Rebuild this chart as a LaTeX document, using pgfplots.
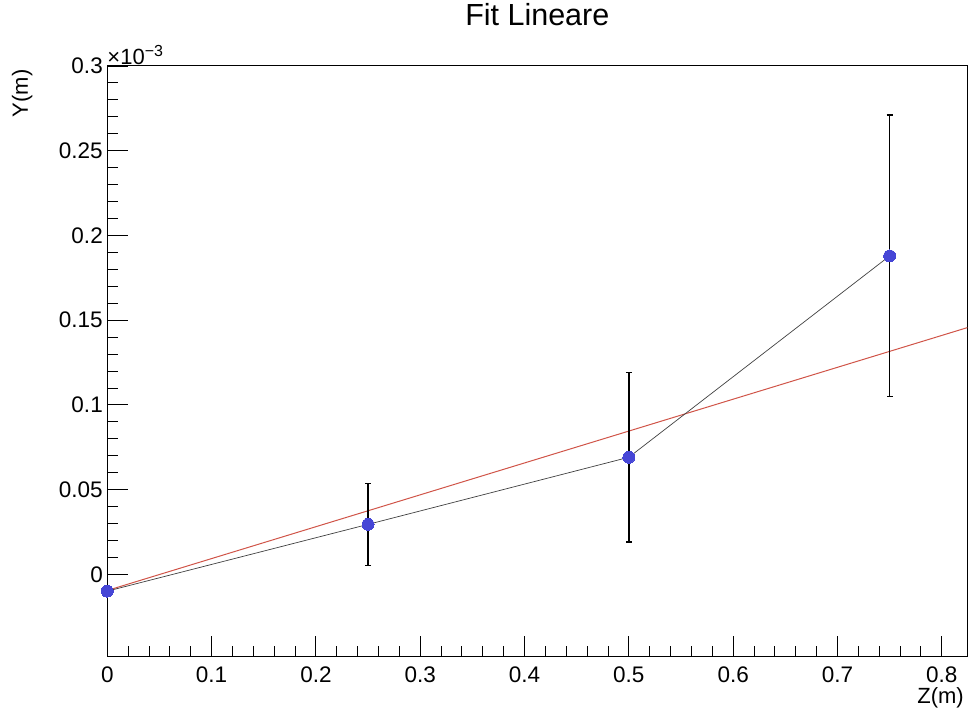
\documentclass[border=0pt]{standalone}
\usepackage{pgfplots}
\pgfplotsset{compat=1.18}
\usepackage{fontspec}
\setmainfont{Liberation Sans}
\definecolor{mkblue}{RGB}{70,70,214}
\definecolor{fitred}{RGB}{208,84,72}
\begin{document}
\begin{tikzpicture}
\useasboundingbox (-107.3pt,-56.3pt) rectangle (865.7pt,656.7pt);
\begin{axis}[
  at={(0,0)}, anchor=south west,
  scale only axis, width=860pt, height=590.7pt,
  xmin=0, xmax=0.8245, ymin=-0.0486, ymax=0.3,
  xtick={0,0.1,...,0.8}, ytick={0,0.05,...,0.3},
  xticklabels={0,0.1,0.2,0.3,0.4,0.5,0.6,0.7,0.8},
  yticklabels={0,0.05,0.1,0.15,0.2,0.25,0.3},
  minor tick num=4,
  xtick pos=bottom, ytick pos=left, tick align=inside,
  major tick length=21pt, minor tick length=10.5pt,
  tick style={black, line width=0.9pt},
  axis line style={black, line width=1pt},
  ticklabel style={font=\fontsize{22.5}{26}\selectfont},
  /pgf/number format/assume math mode=true,
  xticklabel style={yshift=-7pt},
  yticklabel style={xshift=-1pt},
  title={Fit Lineare},
  title style={at={(0.5,1)}, anchor=base, yshift=34pt, font=\fontsize{30.5}{34}\selectfont},
  xlabel={Z(m)},
  xlabel style={at={(1,0)}, anchor=north east, yshift=-27pt, font=\fontsize{22}{25}\selectfont},
  ylabel={Y(m)},
  ylabel style={at={(-0.099,1)}, anchor=east, font=\fontsize{22}{25}\selectfont},
  clip=false,
]
\addplot[fitred, line width=1pt] coordinates {(0,-0.0095) (0.8245,0.1456)};
\addplot[black!75, line width=0.7pt, mark=*,
  mark options={mkblue, draw=mkblue, line width=0pt, mark size=6pt},
  error bars/.cd, y dir=both, y explicit,
  error bar style={black, line width=1.4pt},
  error mark options={rotate=90, mark size=3pt, line width=1.4pt, black}]
  coordinates {
  (0,-0.0099) +- (0,0)
  (0.25,0.0295) +- (0,0.0242)
  (0.5,0.0691) +- (0,0.050)
  (0.75,0.1879) +- (0,0.0831)
  };
\node[anchor=south west, inner sep=0pt, font=\fontsize{22}{25}\selectfont] at (rel axis cs:0,1) [yshift=1pt] {×10\raisebox{8pt}{\fontsize{16}{18}\selectfont −3}};
\end{axis}
\end{tikzpicture}
\end{document}
